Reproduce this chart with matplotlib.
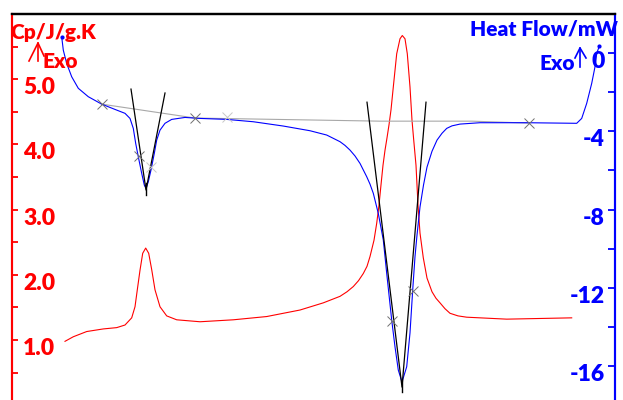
import matplotlib
matplotlib.use("Agg")
import matplotlib.pyplot as plt
import matplotlib.transforms as mtransforms

plt.rcParams['font.family'] = ['Lato', 'DejaVu Sans']
plt.rcParams['font.weight'] = 'heavy'

# Heat flow trace (mW) against the horizontal run position
hf_x = [61.7, 63.3, 66.7, 71.7, 78.3, 88.3, 101.7, 115, 125, 130, 133.3, 135.7,
        138.3, 141.7, 144.3, 146, 148.3, 151, 154.3, 156.7, 160, 165, 171.7, 185,
        200, 226.7, 253.3, 283.3, 310, 326.7, 340, 345, 350, 355, 360, 366.7, 370,
        373.3, 378.3, 383.3, 386.7, 391.7, 395, 398.3, 402, 406.7, 410, 412.7, 415,
        417, 420, 423.5, 427, 432, 437, 442, 446.7, 452, 460, 480, 526.7, 576.7,
        581.7, 586.7, 591.7, 595, 596.7, 599.3]
hf_y = [0.83, 0.15, -0.53, -1.21, -1.80, -2.23, -2.61, -2.88, -3.08, -3.34, -3.85,
        -4.62, -5.30, -6.15, -6.75, -6.92, -6.58, -5.98, -5.13, -4.45, -3.94, -3.59,
        -3.39, -3.29, -3.34, -3.39, -3.51, -3.73, -3.97, -4.19, -4.53, -4.72, -4.96,
        -5.26, -5.64, -6.32, -6.70, -7.17, -8.20, -9.56, -11.26, -13.65, -15.02,
        -16.21, -16.82, -16.04, -14.31, -12.12, -10.41, -9.31, -7.87, -6.75, -5.83,
        -5.02, -4.45, -4.10, -3.85, -3.72, -3.63, -3.56, -3.56, -3.59, -3.34, -2.57,
        -1.55, -0.70, -0.02, 0.36]

# Specific heat trace (J/g.K)
cp_x = [65, 73.3, 86.7, 103.3, 116.7, 125, 131.7, 135, 137.3, 140, 142.7, 145.7,
        148.7, 151.7, 155, 160, 166.7, 176.7, 200, 233.3, 266.7, 300, 323.3, 340,
        347, 353.3, 358.5, 363.3, 367, 370, 374, 376.7, 379, 381, 383, 385, 387,
        389, 391, 393.3, 396.7, 400, 402.3, 405, 407.3, 410, 412, 413.7, 416, 418,
        420, 423.3, 427, 432, 436, 440, 445, 450, 458, 466.7, 506.7, 571.7]
cp_y = [0.98, 1.05, 1.13, 1.17, 1.19, 1.23, 1.34, 1.51, 1.77, 2.07, 2.33, 2.41,
        2.33, 2.08, 1.77, 1.51, 1.37, 1.31, 1.28, 1.31, 1.36, 1.46, 1.57, 1.67,
        1.74, 1.82, 1.91, 2.02, 2.13, 2.28, 2.53, 2.79, 3.07, 3.38, 3.68, 3.91,
        4.10, 4.30, 4.53, 4.88, 5.39, 5.62, 5.67, 5.62, 5.39, 4.88, 4.37, 4.07,
        3.68, 3.07, 2.64, 2.26, 1.95, 1.74, 1.64, 1.57, 1.48, 1.41, 1.37, 1.35,
        1.32, 1.34]

# Integration baseline and onset/endset tangents on the heat flow signal
base_x = [101.7, 195, 380, 472, 529]
base_y = [-2.61, -3.32, -3.48, -3.48, -3.58]
tan1_x = [131, 146, 165]
tan1_y = [-1.84, -7.00, -2.04]
tan2_x = [367, 402, 426]
tan2_y = [-2.51, -17.08, -2.51]
peak_x = [146, 402]
peak_y = [-7.00, -17.08]

# Evaluation markers
mark_x = [101.7, 139, 195, 392, 413, 529]
mark_y = [-2.61, -5.28, -3.32, -13.70, -12.17, -3.58]
faint_x = [150.5, 227]
faint_y = [-5.83, -3.27]

cp_ticks = [1.0, 2.0, 3.0, 4.0, 5.0]
cp_minor = [0.5, 1.5, 2.5, 3.5, 4.5, 5.5]
hf_ticks = [0, -4, -8, -12, -16]
hf_minor = [-2, -6, -10, -14]

RED = '#ff0000'
BLUE = '#0000ff'

fig = plt.figure(figsize=(6.23, 4.0), dpi=100)
ax = fig.add_axes([12 / 623, 0.0, 603 / 623, 1 - 14 / 400])
ax2 = ax.twinx()

ax.plot(cp_x, cp_y, color=RED, lw=0.8)
ax2.plot(base_x, base_y, color='#a8a8a8', lw=0.8)
ax2.plot(hf_x, hf_y, color=BLUE, lw=0.8)
ax2.plot([hf_x[0], hf_x[-1]], [hf_y[0], hf_y[-1]], 'o', color=BLUE, ms=2)
ax2.plot(tan1_x, tan1_y, color='black', lw=0.9)
ax2.plot(tan2_x, tan2_y, color='black', lw=0.9)
for px, py in zip(peak_x, peak_y):
    ax2.plot([px, px], [py + 0.35, py - 0.25], color='black', lw=1.0)
ax2.plot(mark_x, mark_y, 'x', color='#707070', ms=7, mew=0.7)
ax2.plot(faint_x, faint_y, 'x', color='#c8c8c8', ms=7, mew=0.7)

ax.set_xlim(12, 615)
ax.set_ylim(0.08, 6.0)
ax2.set_ylim(-17.74, 2.0)
ax.set_xticks([])

for a in (ax, ax2):
    a.spines['bottom'].set_visible(False)
    a.spines['top'].set_color('black')
    a.spines['top'].set_linewidth(1.6)
    a.spines['left'].set_color(RED)
    a.spines['left'].set_linewidth(1.5)
    a.spines['right'].set_color(BLUE)
    a.spines['right'].set_linewidth(1.5)

ax.set_yticks(cp_ticks)
ax.set_yticks(cp_minor, minor=True)
ax.set_yticklabels([f'{v:.1f}' for v in cp_ticks])
ax.tick_params(axis='y', which='both', direction='in', length=4, width=1.3,
               color=RED, labelcolor=RED, labelsize=16.5, pad=-8)
ax2.set_yticks(hf_ticks)
ax2.set_yticks(hf_minor, minor=True)
ax2.set_yticklabels([str(v) for v in hf_ticks])
ax2.tick_params(axis='y', which='both', direction='in', length=5, width=1.3,
                color=BLUE, labelcolor=BLUE, labelsize=16.5, pad=-7.5)

shift = mtransforms.ScaledTranslation(0, -0.065, fig.dpi_scale_trans)
for lbl in ax.get_yticklabels():
    lbl.set_ha('left')
    lbl.set_fontweight('heavy')
    lbl.set_transform(lbl.get_transform() + shift)
for lbl in ax2.get_yticklabels():
    lbl.set_ha('right')
    lbl.set_fontweight('heavy')
    lbl.set_transform(lbl.get_transform() + shift)

# Axis captions with exotherm direction
cap = dict(fontsize=15, fontweight='heavy', va='baseline')
fig.text(10 / 623, 1 - 39 / 400, 'Cp/J/g.K', color=RED, ha='left', **cap)
fig.text(43 / 623, 1 - 68 / 400, 'Exo', color=RED, ha='left', **cap)
fig.text(618 / 623, 1 - 36 / 400, 'Heat Flow/mW', color=BLUE, ha='right', **cap)
fig.text(575 / 623, 1 - 70 / 400, 'Exo', color=BLUE, ha='right', **cap)
fig.add_artist(plt.Line2D([38 / 623, 38 / 623], [1 - 61 / 400, 1 - 43 / 400],
                          color=RED, lw=1.2))
fig.add_artist(plt.Line2D([29 / 623, 38 / 623, 44 / 623],
                          [1 - 61 / 400, 1 - 43 / 400, 1 - 56 / 400],
                          color=RED, lw=1.2))
fig.add_artist(plt.Line2D([580 / 623, 580 / 623], [1 - 67 / 400, 1 - 48 / 400],
                          color=BLUE, lw=1.2))
fig.add_artist(plt.Line2D([575 / 623, 580 / 623, 586 / 623],
                          [1 - 58 / 400, 1 - 48 / 400, 1 - 58 / 400],
                          color=BLUE, lw=1.2))

fig.savefig('out.png', dpi=100)
